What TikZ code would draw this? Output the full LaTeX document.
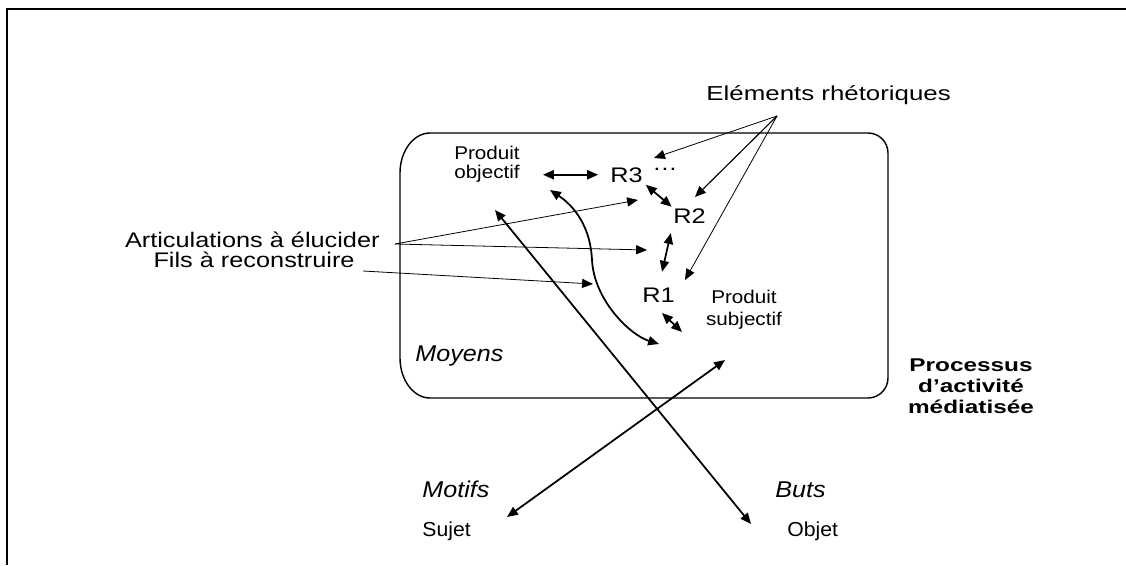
\documentclass[tikz,border=0pt]{standalone}
\usepackage{fontspec}
\setmainfont{Liberation Sans}
\usetikzlibrary{arrows.meta}

\begin{document}
\begin{tikzpicture}[x=0.02cm,y=-0.02cm,
  lbl/.style={inner sep=0pt},
  big/.style={lbl,font=\fontsize{12}{14}\selectfont,xscale=1.2},
  elt/.style={lbl,font=\fontsize{11.5}{13}\selectfont,xscale=1.28},
  prod/.style={lbl,align=center,font=\fontsize{10.5}{10.8}\selectfont,xscale=1.12},
  proc/.style={lbl,align=center,font=\fontsize{10.5}{11.7}\selectfont\bfseries,xscale=1.32},
  ital/.style={lbl,font=\fontsize{13}{15}\selectfont\itshape,xscale=1.1},
  ent/.style={lbl,font=\fontsize{11.5}{13}\selectfont,xscale=1.05},
  tip/.style={-{Triangle[length=6.2pt,width=5.2pt]}},
  bigarr/.style={line width=1pt,{Triangle[length=6.2pt,width=5.2pt]}-{Triangle[length=6.2pt,width=5.2pt]}},
  midarr/.style={line width=0.65pt,tip},
  thinarr/.style={line width=0.45pt,tip}]
\useasboundingbox (0,0) rectangle (1126,565);
% cadre
\draw[line width=1.3pt] (1126,9) -- (7,9) -- (7,565);
% processus
\draw[line width=0.8pt] (430,133) -- (868,133) .. controls (879,133) and (888,142) .. (888,153)
  -- (888,378) .. controls (888,389) and (879,398) .. (868,398)
  -- (430,398) .. controls (413.5,398) and (400,380) .. (400,358)
  -- (400,173) .. controls (400,151) and (413.5,133) .. (430,133);

\node[big,anchor=base east] (artic) at (380,247) {Articulations à élucider};
\node[big,anchor=base east] (fils) at (355,267) {Fils à reconstruire};
\node[elt,anchor=base west] (elts) at (706,100) {Eléments rhétoriques};
\node[prod,anchor=base] (pobj) at (487,178) {Produit\\objectif};
\node[big,anchor=base west] (r3) at (610,182) {R3};
\node[big,anchor=base west] (dots) at (652,170) {\ldots};
\node[big,anchor=base west] (r2) at (673,223) {R2};
\node[big,anchor=base west] (r1) at (642,302) {R1};
\node[prod,anchor=base,font=\fontsize{10.5}{12}\selectfont] (psubj) at (744,325) {Produit\\subjectif};
\node[proc,anchor=base] (proc) at (971,413) {Processus\\d’activité\\médiatisée};
\node[ital,anchor=base west] (moyens) at (415,361) {Moyens};
\node[ital,anchor=base west] (motifs) at (422,497) {Motifs};
\node[ital,anchor=base west] (buts) at (775,497) {Buts};
\node[ent,anchor=base west] (sujet) at (422,536) {Sujet};
\node[ent,anchor=base west] (objet) at (787,536) {Objet};

% bouts des fleches
\coordinate (eltsO) at (777,116);
\coordinate (articO) at ([shift={(15,-3)}]artic.base east);
\coordinate (filsO) at ([shift={(8,4)}]fils.base east);
\coordinate (articT) at (647,250);
\coordinate (filsT) at (593,284);
\coordinate (r1a) at (662,313);
\coordinate (psubjA) at (682,332);
\coordinate (cvA) at (550,190);
\coordinate (cvB) at (659,344);
\coordinate (pobjT) at (495,210);
\coordinate (objetT) at (751,524);
\coordinate (sujetT) at (507,517);
\coordinate (psubjT) at (725,360);

\draw[bigarr,shorten <=13pt,shorten >=6.8pt] (r3.west -| pobj.east) -- (r3.west);
\draw[bigarr,shorten <=2pt,shorten >=1pt] (r3.south east) -- (r2.north west);
\draw[bigarr,shorten <=5.7pt,shorten >=9pt] (r2.south west) -- (r1.north);
\draw[bigarr] (r1a) -- (psubjA);
\draw[bigarr] (cvA) .. controls (568,202) and (590,220) .. (592,260)
  .. controls (594,300) and (630,335) .. (cvB);
\draw[bigarr] (pobjT) -- (objetT);
\draw[bigarr] (sujetT) -- (psubjT);

\draw[thinarr] (eltsO) -- (654,158);
\draw[midarr] (eltsO) -- (695,197);
\draw[thinarr] (eltsO) -- (685,280);
\draw[thinarr] (articO) -- (638,200);
\draw[thinarr] (articO) -- (articT);
\draw[thinarr] (filsO) -- (filsT);
\end{tikzpicture}
\end{document}
